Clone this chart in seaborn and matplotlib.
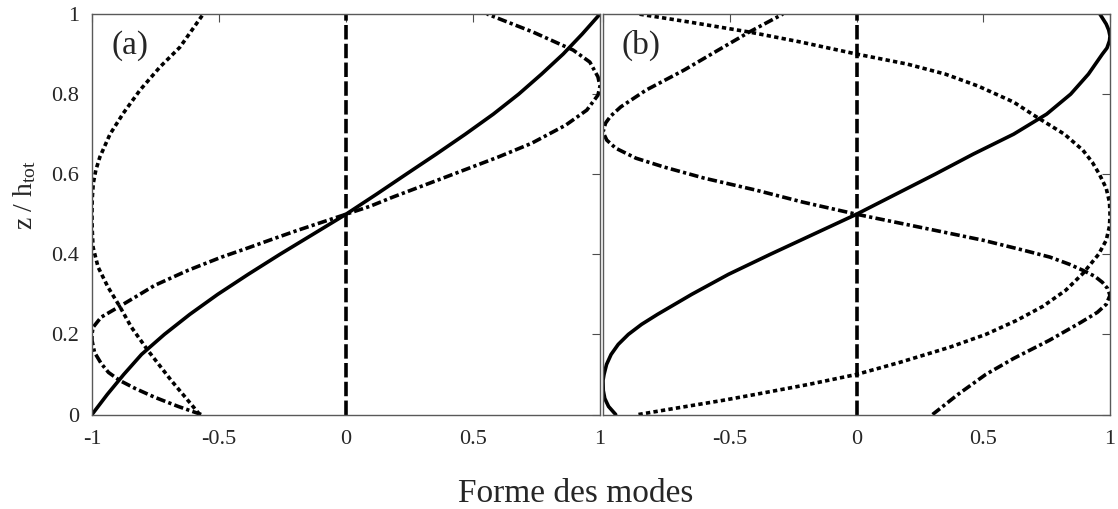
import pandas as pd
import seaborn as sns
import matplotlib.pyplot as plt

# mode shapes: x = forme du mode, z = z / h_tot
# panel (a)
a_solid_z = [0, 0.05, 0.1, 0.15, 0.2, 0.25, 0.3, 0.35, 0.4, 0.45, 0.5,
             0.55, 0.6, 0.65, 0.7, 0.75, 0.8, 0.85, 0.9, 0.95, 1.0]
a_solid_x = [-1.0, -0.94, -0.875, -0.805, -0.715, -0.615, -0.505, -0.385, -0.26, -0.13, 0.0,
             0.12, 0.237, 0.355, 0.47, 0.58, 0.68, 0.77, 0.855, 0.93, 1.0]

a_dot_z = [0, 0.035, 0.085, 0.16, 0.218, 0.27, 0.318, 0.368, 0.418, 0.46, 0.5, 0.54, 0.577, 0.61, 0.643,
           0.70, 0.752, 0.81, 0.868, 0.917, 1.0]
a_dot_x = [-0.576, -0.622, -0.688, -0.78, -0.845, -0.891, -0.937, -0.976, -0.996, -0.999, -1.0, -0.999, -0.995, -0.985, -0.969,
           -0.929, -0.877, -0.811, -0.732, -0.654, -0.562]

a_dd_z = [0, 0.02, 0.043, 0.065, 0.085, 0.105, 0.1275, 0.155, 0.185, 0.2, 0.2175, 0.243, 0.27, 0.295, 0.3225, 0.36, 0.393,
          0.415, 0.44, 0.46, 0.48, 0.5, 0.52, 0.543, 0.585, 0.614, 0.643, 0.677, 0.7225, 0.76, 0.7975, 0.82, 0.843,
          0.88, 0.91, 0.955, 1.0]
a_dd_x = [-0.57, -0.66, -0.753, -0.83, -0.891, -0.935, -0.964, -0.99, -1.0, -1.0, -0.996, -0.964, -0.891, -0.825, -0.753,
          -0.622, -0.49, -0.39, -0.28, -0.19, -0.095, 0.0, 0.095, 0.185, 0.36, 0.48, 0.6, 0.73, 0.865, 0.948, 0.992, 1.0,
          0.992, 0.96, 0.894, 0.736, 0.555]

# panel (b)
b_solid_z = [0, 0.02, 0.04, 0.06, 0.085, 0.1, 0.125, 0.15, 0.175, 0.2, 0.225, 0.25, 0.3, 0.35, 0.4, 0.45, 0.5,
             0.55, 0.6, 0.65, 0.7, 0.75, 0.8, 0.85, 0.9, 0.915, 0.933, 0.945, 0.96, 0.975, 1.0]
b_solid_x = [-0.95, -0.978, -0.993, -0.999, -1.0, -0.996, -0.986, -0.968, -0.94, -0.9, -0.848, -0.785, -0.65, -0.505,
             -0.34, -0.17, 0.0, 0.155, 0.31, 0.46, 0.62, 0.75, 0.845, 0.915, 0.97, 0.988, 0.998, 1.0, 0.995, 0.985, 0.96]

b_dot_z = [0, 0.015, 0.035, 0.05, 0.075, 0.1, 0.13, 0.168, 0.2, 0.235, 0.27, 0.31, 0.352, 0.4, 0.435, 0.47, 0.5,
           0.53, 0.565, 0.6, 0.63, 0.66, 0.7, 0.743, 0.78, 0.82, 0.85, 0.875, 0.9, 0.93, 0.955, 0.98, 1.0]
b_dot_x = [-0.86, -0.72, -0.53, -0.4, -0.19, 0.0, 0.17, 0.368, 0.51, 0.632, 0.735, 0.825, 0.893, 0.955, 0.985, 0.998, 1.0,
           0.998, 0.985, 0.958, 0.93, 0.893, 0.82, 0.71, 0.62, 0.48, 0.35, 0.2, 0.0, -0.22, -0.423, -0.66, -0.86]

b_dd_z = [0, 0.05, 0.1, 0.14, 0.185, 0.23, 0.255, 0.275, 0.2975, 0.315, 0.33, 0.345, 0.36, 0.375, 0.393, 0.41, 0.435,
          0.465, 0.5, 0.53, 0.56, 0.59, 0.618, 0.64, 0.665, 0.685, 0.705, 0.7275, 0.745, 0.768, 0.81, 0.86, 0.91,
          0.955, 1.0]
b_dd_x = [0.30, 0.40, 0.51, 0.62, 0.76, 0.885, 0.95, 0.985, 1.0, 0.99, 0.97, 0.94, 0.893, 0.84, 0.763, 0.66, 0.5,
          0.27, 0.0, -0.21, -0.395, -0.6, -0.76, -0.87, -0.95, -0.985, -1.0, -0.99, -0.97, -0.93, -0.83, -0.68, -0.545,
          -0.423, -0.29]

# vertical reference mode at x = 0
zero_z = [0, 1]
zero_x = [0, 0]

xticks = [-1, -0.5, 0, 0.5, 1]
xlabels_a = ['-1', '-0.5', '0', '0.5', '1']
xlabels_b = ['', '-0.5', '0', '0.5', '1']
yticks = [0, 0.2, 0.4, 0.6, 0.8, 1]
ylabels = ['0', '0.2', '0.4', '0.6', '0.8', '1']

sns.set_style('white')
plt.rcParams['font.family'] = ['Liberation Serif', 'DejaVu Serif']
plt.rcParams['mathtext.fontset'] = 'custom'
plt.rcParams['mathtext.rm'] = 'Liberation Serif'
plt.rcParams['mathtext.it'] = 'Liberation Serif:italic'
plt.rcParams['axes.unicode_minus'] = False

LW = 2.6
SOLID = '-'
DOT = (0, (1.2, 0.9))
DASHDOT = (0, (2.6, 0.9, 0.9, 0.9))
DASH = (0, (4.0, 1.2))

fig = plt.figure(figsize=(11.18, 5.09), dpi=100)
ax1 = fig.add_axes([92 / 1118, 94.5 / 509, 508 / 1118, 400.5 / 509])
ax2 = fig.add_axes([603 / 1118, 94.5 / 509, 507 / 1118, 400.5 / 509])


def draw(ax, x, z, ls):
    sns.lineplot(x=x, y=z, ax=ax, orient='y', estimator=None, errorbar=None,
                 color='black', lw=LW, linestyle=ls)


draw(ax1, a_solid_x, a_solid_z, SOLID)
draw(ax1, a_dot_x, a_dot_z, DOT)
draw(ax1, a_dd_x, a_dd_z, DASHDOT)
draw(ax1, zero_x, zero_z, DASH)

draw(ax2, b_solid_x, b_solid_z, SOLID)
draw(ax2, b_dot_x, b_dot_z, DOT)
draw(ax2, b_dd_x, b_dd_z, DASHDOT)
draw(ax2, zero_x, zero_z, DASH)

for ax, xl in [(ax1, xlabels_a), (ax2, xlabels_b)]:
    ax.set_xlim(-1, 1)
    ax.set_ylim(0, 1)
    ax.set_xticks(xticks)
    ax.set_xticklabels(xl)
    ax.set_yticks(yticks)
    ax.set_xlabel('')
    ax.set_ylabel('')
    ax.tick_params(direction='in', top=True, right=True, length=6, width=0.8,
                   color='0.3', labelsize=16)
    ax.tick_params(axis='x', pad=11)
    ax.tick_params(axis='y', pad=9)
    for s in ax.spines.values():
        s.set_color('0.35')
        s.set_linewidth(1.0)

ax1.set_yticklabels(ylabels)
ax2.set_yticklabels([''] * len(yticks))

ax1.text(0.039, 0.96, '(a)', transform=ax1.transAxes, fontsize=24, va='top')
ax2.text(0.037, 0.96, '(b)', transform=ax2.transAxes, fontsize=24, va='top')

fig.text(0.5148, 0.0138, 'Forme des modes', ha='center', va='baseline', fontsize=24)
fig.text(0.0224, 0.617, r'$\mathrm{z\ /\ h_{tot}}$', rotation=90, ha='center', va='center', fontsize=20)

plt.savefig('out.png', dpi=100)
